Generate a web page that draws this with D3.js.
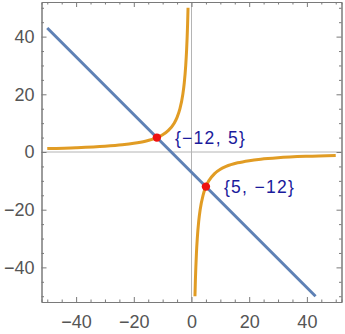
<!DOCTYPE html>
<html>
<head>
<meta charset="utf-8">
<script src="https://cdn.jsdelivr.net/npm/d3@7"></script>
<style>
  body { margin: 0; background: #fff; }
  svg { display: block; font-family: "Liberation Sans", Arial, sans-serif; }
</style>
</head>
<body>
<div id="chart-area"></div>
<script>
// line y = -x - 7
var lineX = [-50, 43];
var lineY = [43, -50];

// hyperbola branches (xy = -60)
var leftX = [-50, -40, -30, -24, -20, -16, -12, -10, -8, -6, -5, -4, -3, -2.5, -2, -1.7, -1.5, -1.35, -1.2];
var leftY = [1.2, 1.5, 2, 2.5, 3, 3.75, 5, 6, 7.5, 10, 12, 15, 20, 24, 30, 35.3, 40, 44.4, 50];
var rightX = [1.2, 1.35, 1.5, 1.7, 2, 2.5, 3, 4, 5, 6, 8, 10, 12, 16, 20, 24, 30, 40, 50];
var rightY = [-50, -44.4, -40, -35.3, -30, -24, -20, -15, -12, -10, -7.5, -6, -5, -3.75, -3, -2.5, -2, -1.5, -1.2];

// intersection points
var pointX = [-12, 5];
var pointY = [5, -12];
var pointLabels = ["{\u221212, 5}", "{5, \u221212}"];

var majorTicks = [-40, -20, 0, 20, 40];
var minorTicks = [-50, -45, -35, -30, -25, -15, -10, -5, 5, 10, 15, 25, 30, 35, 45, 50];

var width = 345, height = 334;
var frameLeft = 41.5, frameRight = 341.5, frameTop = 2, frameBottom = 302;

var svg = d3.select("#chart-area")
  .append("svg")
    .attr("width", width)
    .attr("height", height);

var x = d3.scaleLinear().domain([-52, 52]).range([frameLeft, frameRight]);
var y = d3.scaleLinear().domain([-52, 52]).range([frameBottom, frameTop]);

var fmt = function(d) { return d < 0 ? "\u2212" + Math.abs(d) : String(d); };

// zero axes
svg.append("line")
  .attr("x1", x(-52)).attr("x2", x(52))
  .attr("y1", y(0)).attr("y2", y(0))
  .attr("stroke", "#b4b4b4").attr("stroke-width", 1);
svg.append("line")
  .attr("x1", x(0)).attr("x2", x(0))
  .attr("y1", y(-52)).attr("y2", y(52))
  .attr("stroke", "#b4b4b4").attr("stroke-width", 1);

// frame axes, ticks pointing inward
function styleAxis(g) {
  g.select(".domain").attr("stroke", "#7a7a7a");
  g.selectAll(".tick line").attr("stroke", "#7a7a7a");
  g.selectAll(".tick text")
    .attr("fill", "#555")
    .style("font-size", "18px")
    .style("font-family", "'Liberation Sans', Arial, sans-serif");
}

svg.append("g").attr("transform", "translate(0," + frameBottom + ")")
  .call(d3.axisBottom(x).tickValues(majorTicks).tickFormat(fmt).tickSizeInner(-5).tickSizeOuter(0).tickPadding(13))
  .call(styleAxis);
svg.append("g").attr("transform", "translate(" + frameLeft + ",0)")
  .call(d3.axisLeft(y).tickValues(majorTicks).tickFormat(fmt).tickSizeInner(-5).tickSizeOuter(0).tickPadding(7))
  .call(styleAxis);
svg.append("g").attr("transform", "translate(0," + frameTop + ")")
  .call(d3.axisTop(x).tickValues(majorTicks).tickFormat("").tickSizeInner(-5).tickSizeOuter(0))
  .call(styleAxis);
svg.append("g").attr("transform", "translate(" + frameRight + ",0)")
  .call(d3.axisRight(y).tickValues(majorTicks).tickFormat("").tickSizeInner(-5).tickSizeOuter(0))
  .call(styleAxis);

// minor ticks
svg.append("g").attr("transform", "translate(0," + frameBottom + ")")
  .call(d3.axisBottom(x).tickValues(minorTicks).tickFormat("").tickSize(-2.5))
  .call(styleAxis);
svg.append("g").attr("transform", "translate(" + frameLeft + ",0)")
  .call(d3.axisLeft(y).tickValues(minorTicks).tickFormat("").tickSize(-2.5))
  .call(styleAxis);
svg.append("g").attr("transform", "translate(0," + frameTop + ")")
  .call(d3.axisTop(x).tickValues(minorTicks).tickFormat("").tickSize(-2.5))
  .call(styleAxis);
svg.append("g").attr("transform", "translate(" + frameRight + ",0)")
  .call(d3.axisRight(y).tickValues(minorTicks).tickFormat("").tickSize(-2.5))
  .call(styleAxis);

var curve = d3.line()
  .x(function(d) { return x(d[0]); })
  .y(function(d) { return y(d[1]); })
  .curve(d3.curveMonotoneX);

var branches = [d3.zip(leftX, leftY), d3.zip(rightX, rightY)];

svg.selectAll("path.hyp")
  .data(branches)
  .enter()
  .append("path")
    .attr("class", "hyp")
    .attr("d", curve)
    .attr("fill", "none")
    .attr("stroke", "#e19c24")
    .attr("stroke-width", 3);

svg.append("path")
  .datum(d3.zip(lineX, lineY))
  .attr("d", d3.line().x(function(d) { return x(d[0]); }).y(function(d) { return y(d[1]); }))
  .attr("fill", "none")
  .attr("stroke", "#5e81b5")
  .attr("stroke-width", 3);

var pts = d3.zip(pointX, pointY, pointLabels);

svg.selectAll("circle.pt")
  .data(pts)
  .enter()
  .append("circle")
    .attr("class", "pt")
    .attr("cx", function(d) { return x(d[0]); })
    .attr("cy", function(d) { return y(d[1]); })
    .attr("r", 4.2)
    .attr("fill", "#ee1111");

svg.selectAll("text.lbl")
  .data(pts)
  .enter()
  .append("text")
    .attr("class", "lbl")
    .attr("x", function(d) { return x(d[0]) + 18; })
    .attr("y", function(d) { return y(d[1]); })
    .attr("dy", "0.35em")
    .attr("textLength", 70)
    .attr("lengthAdjust", "spacing")
    .attr("fill", "#1a1a9c")
    .style("font-size", "17.5px")
    .text(function(d) { return d[2]; });
</script>
</body>
</html>
